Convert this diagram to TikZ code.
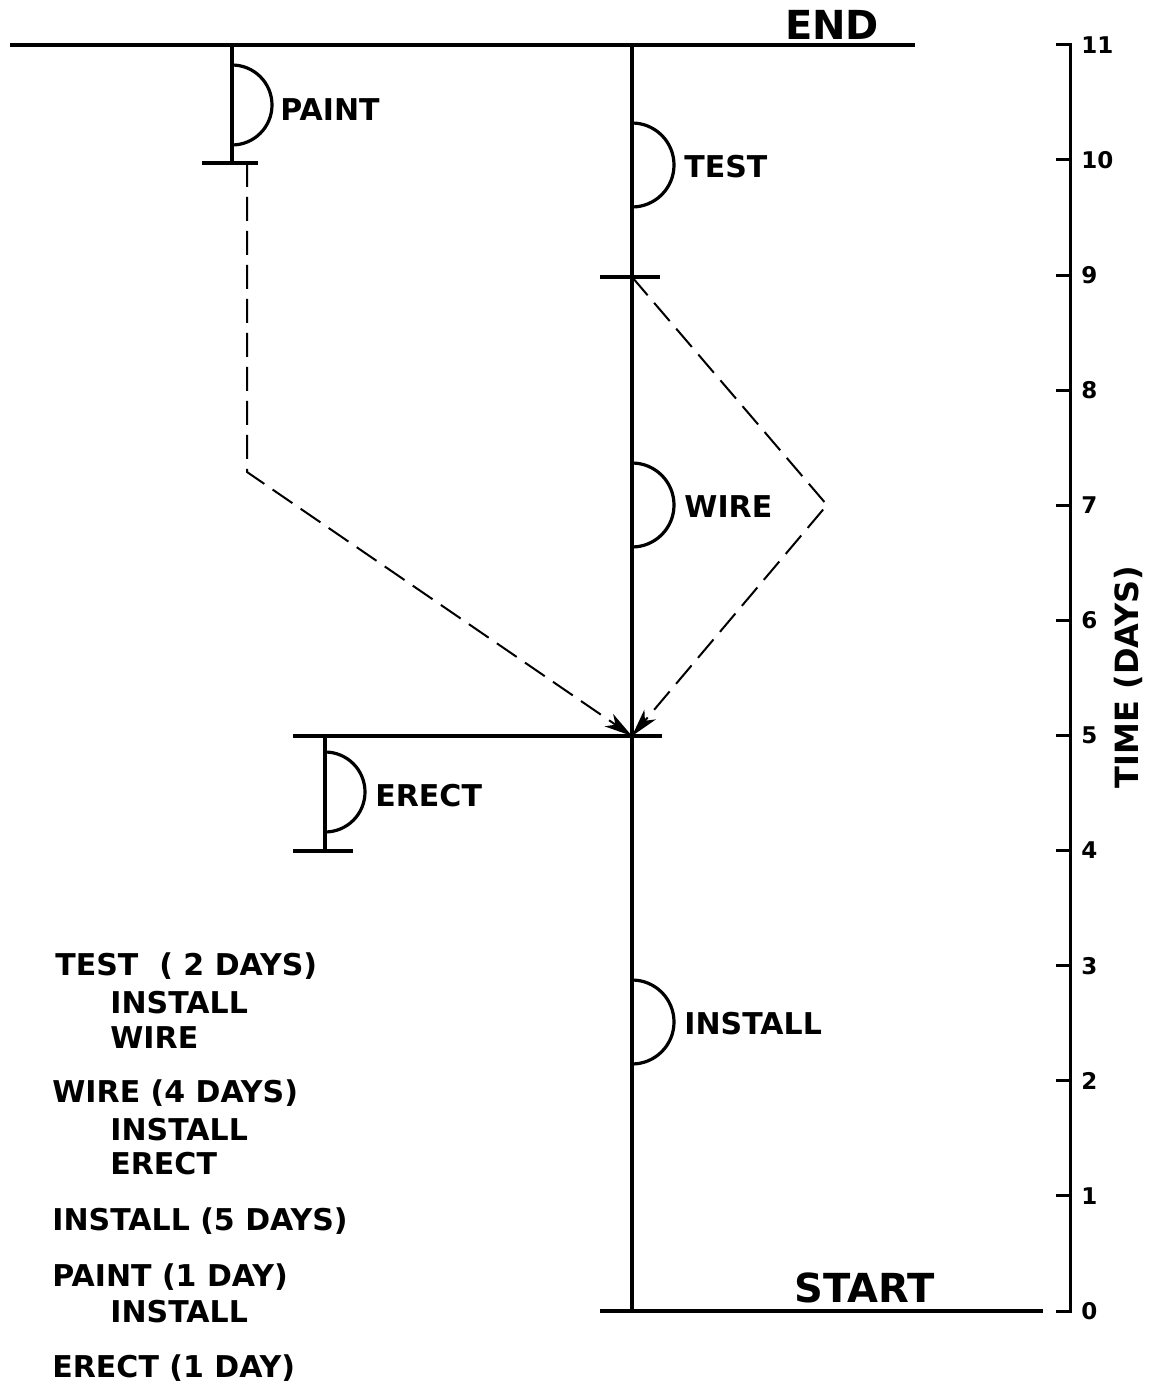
\documentclass[tikz,border=0pt]{standalone}
\usepackage{fontspec}
\setmainfont{DejaVu Sans}
\usetikzlibrary{arrows.meta,positioning}

\begin{document}
\begin{tikzpicture}[
  x=0.5pt, y=-0.5pt,
  event/.style={line width=2pt},
  act/.style={line width=1.6pt},
  dep/.style={line width=1pt,dash pattern=on 12pt off 5pt},
  deparrow/.style={dep,-{Stealth[length=14pt,width=7.5pt,inset=4pt]}},
  lbl/.style={font=\bfseries\fontsize{15}{18}\selectfont,inner sep=0pt,anchor=west},
  big/.style={font=\bfseries\fontsize{20}{24}\selectfont,inner sep=0pt},
  daylbl/.style={font=\bfseries\fontsize{11.5}{13}\selectfont,inner sep=0pt,anchor=west}
]
  \useasboundingbox (0,0) rectangle (1149,1384);

  % events
  \coordinate (endL) at (10,45);
  \coordinate (endR) at (915,45);
  \coordinate (finish) at (632,45);
  \coordinate (start) at (632,1311);
  \coordinate (startL) at (600,1311);
  \coordinate (startR) at (1043,1311);
  \coordinate (d9) at (632,277);
  \coordinate (d5) at (632,736);
  \coordinate (bend) at (827,505);
  \coordinate (paintTop) at (232,45);
  \coordinate (paintBot) at (232,163);
  \coordinate (paintDep) at (247,163);
  \coordinate (paintKnee) at (247,472);
  \coordinate (erectTop) at (325,736);
  \coordinate (erectBot) at (325,851);

  \node[big] (endtxt) at (832,25) {END};
  \node[big] (starttxt) at (865,1288) {START};

  \draw[event] (endL) -- (endR);
  \draw[event] (startL) -- (startR);
  \draw[event] (finish) -- (start);
  \draw[event] (paintTop) -- (paintBot);
  \draw[event] ([xshift=-15pt]paintBot) -- ([xshift=13pt]paintBot);
  \draw[event] ([xshift=-16pt]d9) -- ([xshift=14pt]d9);
  \draw[event] (293,736) -- ([xshift=15pt]d5);
  \draw[event] (erectTop) -- (erectBot);
  \draw[event] ([xshift=-16pt]erectBot) -- ([xshift=14pt]erectBot);

  % activities
  \foreach \c/\n in {165/TEST,505/WIRE,1022/INSTALL}{
    \draw[act] (632,\c-42) arc[start angle=-90,end angle=90,radius=42];
    \node[lbl] (lbl-\n) at (684,\c+2) {\n};
  }
  \draw[act] (232,65) arc[start angle=-90,end angle=90,radius=40];
  \node[lbl] (lbl-PAINT) at (280,110) {PAINT};
  \draw[act] (325,752) arc[start angle=-90,end angle=90,radius=40];
  \node[lbl] (lbl-ERECT) at (375,796) {ERECT};

  % dependencies
  \draw[deparrow] (paintDep) -- (paintKnee) -- (d5);
  \draw[deparrow] (d9) -- (bend) -- (d5);

  % time scale
  \draw[line width=1.5pt] (1056,45) -- (1070,45) -- (1070,1311) -- (1056,1311);
  \foreach \d in {0,...,11}{
    \draw[line width=1.5pt] (1056,1311-115.1*\d) -- (1070,1311-115.1*\d);
    \node[daylbl] (day\d) at (1081,1311-115.1*\d) {\d};
  }
  \node[lbl,anchor=center,rotate=90,font=\bfseries\fontsize{16}{19}\selectfont] (axis) at (1128,677) {TIME (DAYS)};

  % precedence list
  \node[lbl] (tTest) at (55,966) {TEST\ \ ( 2 DAYS)};
  \node[lbl] (tTest1) at (110,1003) {INSTALL};
  \node[lbl] (tTest2) at (110,1038) {WIRE};
  \node[lbl] (tWire) at (52,1093) {WIRE (4 DAYS)};
  \node[lbl] (tWire1) at (110,1130) {INSTALL};
  \node[lbl] (tWire2) at (110,1164) {ERECT};
  \node[lbl] (tInst) at (52,1221) {INSTALL (5 DAYS)};
  \node[lbl] (tPaint) at (52,1277) {PAINT (1 DAY)};
  \node[lbl] (tPaint1) at (110,1312) {INSTALL};
  \node[lbl] (tErect) at (52,1368) {ERECT (1 DAY)};
\end{tikzpicture}
\end{document}
